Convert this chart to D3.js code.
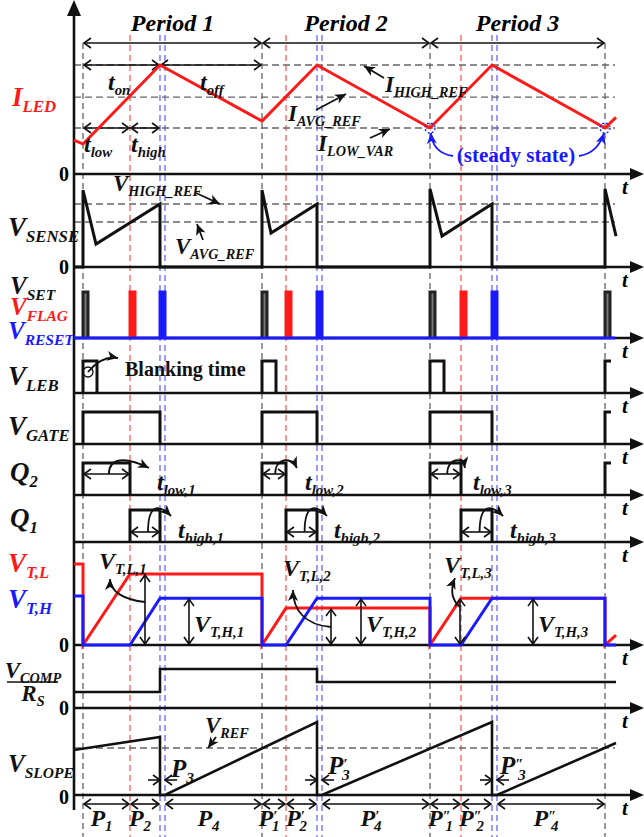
<!DOCTYPE html>
<html>
<head>
<meta charset="utf-8">
<script src="https://cdn.jsdelivr.net/npm/d3@7"></script>
<style>
  body { margin: 0; background: #fff; }
  text { font-family: "Liberation Serif", "Times New Roman", serif; font-weight: bold; }
</style>
</head>
<body>
<svg id="chart"></svg>
<script>
// ---- time markers (arbitrary time units, 0 = vertical axis) ----
const periodStart = [9, 188, 356, 531];
const flagTime = [56, 212, 387];
const resetTime = [86, 243, 418];
const resetEnd = [91, 248, 423];
const periodLabels = ['Period 1', 'Period 2', 'Period 3'];
const blankingWidth = 14;
const pulseWidth = 5;

// ---- waveforms: [time, value] ----
const iLedRefs = [1, 0.706, 0.422];          // I_HIGH_REF, I_AVG_REF, I_LOW_VAR
const iLedWave = [[0, 0.31], [9, 0.275], [86, 1], [188, 0.486], [243, 1], [356, 0.422], [418, 1], [531, 0.422], [542, 0.52]];
const vSenseRefs = [1, 0.714];               // V_HIGH_REF, V_AVG_REF
const vSenseWave = [[0, 0], [9, 0], [9, 1.22], [22, 0.365], [86, 1], [86, 0], [188, 0], [188, 1.22], [197, 0.54],
  [243, 1], [243, 0], [356, 0], [356, 1.24], [368, 0.49], [418, 1], [418, 0], [531, 0], [531, 1.24], [542, 0.49]];
const vtlWave = [[0, 1.14], [9, 1.14], [9, 0], [56, 1], [188, 1], [188, 0], [212, 0.52], [356, 0.52], [356, 0],
  [387, 0.66], [531, 0.66], [531, 0], [542, 0.14]];
const vthWave = [[0, 0.69], [9, 0.69], [9, 0], [56, 0], [86, 0.66], [188, 0.66], [188, 0], [212, 0], [243, 0.66],
  [356, 0.66], [356, 0], [387, 0], [418, 0.66], [531, 0.66], [531, 0], [542, 0]];
const vCompWave = [[0, 0.41], [86, 0.41], [86, 1], [243, 1], [243, 0.667], [542, 0.667]];
const vRef = 1;
const vSlopeWave = [[0, 0.957], [86, 1.234], [86, 0], [91, 0], [243, 1.553], [243, 0], [248, 0], [418, 1.553],
  [418, 0], [423, 0], [542, 1.106]];
const vtlArrowT = [71, 257, 386];   // where the V_T,L,n arrows stand
const vthArrowT = [115, 287, 459];
const vtlLevels = [1, 0.52, 0.66];
const vthLevels = [0.66, 0.66, 0.66];

const W = 644, H = 837;
const svg = d3.select('#chart').attr('width', W).attr('height', H);

const x = d3.scaleLinear().domain([0, 566]).range([74, 640]);
const xEnd = 615;

// panel y scales (value 0 -> baseline)
const yLed = d3.scaleLinear().domain([0, 1]).range([174, 65]);
const ySense = d3.scaleLinear().domain([0, 1]).range([267, 204]);
const ySet = d3.scaleLinear().domain([0, 1]).range([338, 292]);
const yLeb = d3.scaleLinear().domain([0, 1]).range([393, 361]);
const yGate = d3.scaleLinear().domain([0, 1]).range([444, 412]);
const yQ2 = d3.scaleLinear().domain([0, 1]).range([495, 463]);
const yQ1 = d3.scaleLinear().domain([0, 1]).range([542, 510]);
const yVt = d3.scaleLinear().domain([0, 1]).range([645, 574]);
const yComp = d3.scaleLinear().domain([0, 1]).range([708, 669]);
const ySlope = d3.scaleLinear().domain([0, 1]).range([795, 748]);

const RED = '#ff1a1a', BLUE = '#1a1aff', BLACK = '#111';

// markers
const defs = svg.append('defs');
defs.append('marker').attr('id', 'chev').attr('viewBox', '-10 -6 12 12')
  .attr('refX', 0).attr('refY', 0).attr('markerWidth', 12).attr('markerHeight', 12)
  .attr('markerUnits', 'userSpaceOnUse').attr('orient', 'auto-start-reverse')
  .append('path').attr('d', 'M-7,-5 L0,0 L-7,5').attr('fill', 'none')
  .attr('stroke', BLACK).attr('stroke-width', 1.6);
[['head', BLACK], ['headB', BLUE]].forEach(([id, c]) => {
  defs.append('marker').attr('id', id).attr('viewBox', '-12 -6 13 12')
    .attr('refX', 0).attr('refY', 0).attr('markerWidth', 13).attr('markerHeight', 12)
    .attr('markerUnits', 'userSpaceOnUse').attr('orient', 'auto')
    .append('path').attr('d', 'M-11,-5 L0,0 L-11,5 L-8,0 Z').attr('fill', c);
});

// ---- vertical dashed time markers ----
const vg = svg.append('g').attr('stroke-width', 1.2).attr('stroke-dasharray', '6,4');
periodStart.forEach(t => vg.append('line').attr('x1', x(t)).attr('x2', x(t)).attr('y1', 43).attr('y2', H).attr('stroke', '#555'));
flagTime.forEach(t => vg.append('line').attr('x1', x(t)).attr('x2', x(t)).attr('y1', 35).attr('y2', H).attr('stroke', '#ff4d4d'));
resetTime.concat(resetEnd).forEach(t => vg.append('line').attr('x1', x(t)).attr('x2', x(t)).attr('y1', 35).attr('y2', H).attr('stroke', '#5a5aff'));

// ---- horizontal dashed reference lines ----
const hg = svg.append('g').attr('stroke', '#666').attr('stroke-width', 1.3).attr('stroke-dasharray', '7,4');
iLedRefs.forEach(v => hg.append('line').attr('x1', x(0)).attr('x2', xEnd).attr('y1', yLed(v)).attr('y2', yLed(v)));
vSenseRefs.forEach(v => hg.append('line').attr('x1', x(0)).attr('x2', xEnd).attr('y1', ySense(v)).attr('y2', ySense(v)));
hg.append('line').attr('x1', x(0)).attr('x2', xEnd).attr('y1', ySlope(vRef)).attr('y2', ySlope(vRef));

// ---- axes ----
const axisBases = [174, 267, 338, 393, 444, 495, 542, 645, 708, 795];
const ag = svg.append('g');
axisBases.forEach(b => {
  ag.append('line').attr('x1', x(0)).attr('x2', 632).attr('y1', b).attr('y2', b).attr('stroke', BLACK).attr('stroke-width', 2.4);
  ag.append('path').attr('d', `M630,${b - 6} L644,${b} L630,${b + 6} Z`).attr('fill', BLACK);
  ag.append('text').attr('x', 622).attr('y', b + 20).attr('font-size', 21).attr('font-style', 'italic').text('t');
});
ag.append('line').attr('x1', x(0)).attr('x2', x(0)).attr('y1', 12).attr('y2', 810).attr('stroke', BLACK).attr('stroke-width', 2.6);
ag.append('path').attr('d', `M${x(0) - 7},16 L${x(0)},0 L${x(0) + 7},16 Z`).attr('fill', BLACK);
[174, 267, 645, 708, 797].forEach(b => ag.append('text').attr('x', 69).attr('y', b + 7).attr('text-anchor', 'end').attr('font-size', 20).text('0'));

// ---- label helper: main text with subscript / optional prime ----
function label(xp, yp, main, sub, opt = {}) {
  const size = opt.size || 24;
  const t = svg.append('text').attr('x', xp).attr('y', yp).attr('font-size', size)
    .attr('font-style', opt.upright ? 'normal' : 'italic').attr('fill', opt.color || BLACK)
    .attr('text-anchor', opt.anchor || 'start');
  t.append('tspan').text(main);
  if (opt.prime) {
    t.append('tspan').attr('font-size', size * 0.6).attr('dy', -size * 0.2).text(opt.prime);
    t.append('tspan').attr('font-size', size * 0.62).attr('dx', -size * 0.22 * opt.prime.length).attr('dy', size * 0.42).text(sub);
  } else if (sub) {
    t.append('tspan').attr('font-size', size * 0.62).attr('dy', size * 0.22).text(sub);
  }
  return t;
}

// ---- line helpers ----
const line = d3.line();
function wave(data, ys, color, width) {
  svg.append('path').attr('d', line(data.map(d => [x(d[0]), ys(d[1])])))
    .attr('fill', 'none').attr('stroke', color).attr('stroke-width', width || 3).attr('stroke-linejoin', 'miter');
}
function pulses(intervals, ys, color, fillColor) {
  intervals.forEach(([a, b]) => {
    const pts = [[x(a), ys(0)], [x(a), ys(1)], [x(b), ys(1)], [x(b), ys(0)]];
    svg.append('path').attr('d', line(pts)).attr('fill', fillColor || 'none')
      .attr('stroke', color).attr('stroke-width', 3);
  });
}
function span(a, b, yp) {  // double-headed interval arrow
  svg.append('line').attr('x1', a).attr('x2', b).attr('y1', yp).attr('y2', yp)
    .attr('stroke', BLACK).attr('stroke-width', 1.6)
    .attr('marker-start', 'url(#chev)').attr('marker-end', 'url(#chev)');
}
function arrow(d, marker) {
  svg.append('path').attr('d', d).attr('fill', 'none').attr('stroke', marker === 'headB' ? BLUE : BLACK)
    .attr('stroke-width', 1.8).attr('marker-end', `url(#${marker || 'head'})`);
}

// ---- I_LED panel ----
periodLabels.forEach((p, i) => {
  svg.append('text').attr('x', (x(periodStart[i]) + x(periodStart[i + 1])) / 2).attr('y', 31)
    .attr('text-anchor', 'middle').attr('font-size', 24).attr('font-style', 'italic').text(p);
  span(x(periodStart[i]) + 1, x(periodStart[i + 1]) - 1, 43);
});
span(x(periodStart[0]) + 1, x(resetTime[0]) - 1, yLed(1));
span(x(resetTime[0]) + 1, x(periodStart[1]) - 1, yLed(1));
span(x(periodStart[0]) + 1, x(flagTime[0]) - 1, yLed(iLedRefs[2]));
span(x(flagTime[0]) + 1, x(resetTime[0]) - 1, yLed(iLedRefs[2]));
wave(iLedWave, yLed, RED, 3);
label(12, 106, 'I', 'LED', { color: RED, size: 27 });
label(108, 90, 't', 'on', { size: 24 });
label(200, 90, 't', 'off', { size: 24 });
label(84, 152, 't', 'low', { size: 24 });
label(131, 152, 't', 'high', { size: 24 });
label(385, 92, 'I', 'HIGH_REF', { size: 23 });
arrow('M384,78 L364,66');
label(288, 121, 'I', 'AVG_REF', { size: 23 });
arrow('M316,110 L346,94');
label(318, 151, 'I', 'LOW_VAR', { size: 23 });
arrow('M370,138 L390,129');
svg.append('text').attr('x', 516).attr('y', 162).attr('text-anchor', 'middle').attr('font-size', 21)
  .attr('fill', BLUE).text('(steady state)');
[periodStart[2], periodStart[3]].forEach(t => svg.append('circle').attr('cx', x(t)).attr('cy', yLed(iLedRefs[2]))
  .attr('r', 5).attr('fill', 'none').attr('stroke', BLUE).attr('stroke-width', 1.3).attr('stroke-dasharray', '2,2'));
arrow(`M453,156 C440,154 432,146 ${x(periodStart[2]) + 1},${yLed(iLedRefs[2]) + 5}`, 'headB');
arrow(`M579,156 C592,154 600,146 ${x(periodStart[3]) - 1},${yLed(iLedRefs[2]) + 5}`, 'headB');

// ---- V_SENSE panel ----
wave(vSenseWave, ySense, BLACK, 3);
label(8, 236, 'V', 'SENSE', { size: 27 });
label(113, 191, 'V', 'HIGH_REF', { size: 23 });
arrow('M196,193 L220,204');
label(175, 254, 'V', 'AVG_REF', { size: 23 });
arrow('M203,240 L197,224');

// ---- V_SET / V_FLAG / V_RESET ----
pulses(periodStart.map(t => [t, t + pulseWidth]), ySet, '#222', '#777');
pulses(flagTime.map(t => [t, t + pulseWidth]), ySet, RED, RED);
pulses(resetTime.map((t, i) => [t, resetEnd[i]]), ySet, BLUE, BLUE);
svg.append('line').attr('x1', x(0)).attr('x2', xEnd).attr('y1', ySet(0)).attr('y2', ySet(0)).attr('stroke', BLUE).attr('stroke-width', 3);
label(10, 294, 'V', 'SET', { size: 25 });
label(10, 315, 'V', 'FLAG', { size: 25, color: RED });
label(8, 339, 'V', 'RESET', { size: 25, color: BLUE });

// ---- V_LEB ----
pulses(periodStart.slice(0, 3).map(t => [t, t + blankingWidth]), yLeb, BLACK);
wave([[periodStart[3], 0], [periodStart[3], 1], [periodStart[3] + 6, 1]], yLeb, BLACK, 3);
label(8, 385, 'V', 'LEB', { size: 27 });
svg.append('circle').attr('cx', 88).attr('cy', 372).attr('r', 5).attr('fill', 'none').attr('stroke', BLACK).attr('stroke-width', 1.3);
arrow('M88,372 C98,360 108,356 118,358');
label(125, 376, 'Blanking time', null, { size: 20, upright: true });

// ---- V_GATE ----
pulses(periodStart.slice(0, 3).map((t, i) => [t, resetTime[i]]), yGate, BLACK);
wave([[periodStart[3], 0], [periodStart[3], 1], [periodStart[3] + 6, 1]], yGate, BLACK, 3);
label(8, 435, 'V', 'GATE', { size: 27 });

// ---- Q2 ----
pulses(periodStart.slice(0, 3).map((t, i) => [t, flagTime[i]]), yQ2, BLACK);
wave([[periodStart[3], 0], [periodStart[3], 1], [periodStart[3] + 6, 1]], yQ2, BLACK, 3);
label(10, 481, 'Q', '2', { size: 27 });
const lowLabelX = [157, 305, 473];
periodStart.slice(0, 3).forEach((t, i) => {
  const a = x(t), b = x(flagTime[i]), m = a + (b - a) * 0.55;
  span(a + 1, b - 1, 474);
  arrow(`M${m},474 C${m},458 ${m + 16},456 ${lowLabelX[i] - 8},468`);
  label(lowLabelX[i], 490, 't', `low,${i + 1}`, { size: 24 });
});

// ---- Q1 ----
pulses(flagTime.map((t, i) => [t, resetTime[i]]), yQ1, BLACK);
label(10, 527, 'Q', '1', { size: 27 });
const highLabelX = [178, 334, 510];
flagTime.forEach((t, i) => {
  const a = x(t), b = x(resetTime[i]), m = a + (b - a) * 0.6;
  span(a + 1, b - 1, 532);
  arrow(`M${m},532 C${m},505 ${m + 10},503 ${highLabelX[i] - 7},516`);
  label(highLabelX[i], 538, 't', `high,${i + 1}`, { size: 24 });
});

// ---- V_T,L / V_T,H ----
wave(vtlWave, yVt, RED, 3);
wave(vthWave, yVt, BLUE, 3);
const vArrow = (t, v) => svg.append('line').attr('x1', x(t)).attr('x2', x(t)).attr('y1', yVt(v) + 1).attr('y2', yVt(0) - 1)
  .attr('stroke', BLACK).attr('stroke-width', 1.6).attr('marker-start', 'url(#chev)').attr('marker-end', 'url(#chev)');
vtlArrowT.forEach((t, i) => vArrow(t, vtlLevels[i]));
vthArrowT.forEach((t, i) => vArrow(t, vthLevels[i]));
label(99, 569, 'V', 'T,L,1', { size: 24 });
label(283, 576, 'V', 'T,L,2', { size: 24 });
label(444, 573, 'V', 'T,L,3', { size: 24 });
label(194, 632, 'V', 'T,H,1', { size: 24 });
label(366, 632, 'V', 'T,H,2', { size: 24 });
label(538, 632, 'V', 'T,H,3', { size: 24 });
arrow(`M${x(vtlArrowT[0])},602 C125,600 110,592 110,579`);
arrow(`M${x(vtlArrowT[1])},627 C305,625 293,610 293,590`);
arrow(`M${x(vtlArrowT[2])},607 C452,600 450,590 455,578`);
label(8, 572, 'V', 'T,L', { size: 27, color: RED });
label(8, 608, 'V', 'T,H', { size: 27, color: BLUE });

// ---- V_COMP / R_S ----
wave(vCompWave, yComp, BLACK, 2.6);
label(33, 678, 'V', 'COMP', { size: 23, anchor: 'middle' });
svg.append('line').attr('x1', 7).attr('x2', 58).attr('y1', 682).attr('y2', 682).attr('stroke', BLACK).attr('stroke-width', 1.5);
label(33, 701, 'R', 'S', { size: 23, anchor: 'middle' });

// ---- V_SLOPE ----
wave(vSlopeWave, ySlope, BLACK, 2.6);
label(8, 772, 'V', 'SLOPE', { size: 25 });
label(205, 733, 'V', 'REF', { size: 23 });
arrow('M216,737 L208,748');
resetTime.forEach((t, i) => {
  const a = x(t), b = x(resetEnd[i]);
  svg.append('line').attr('x1', a - 12).attr('x2', a).attr('y1', 780).attr('y2', 780)
    .attr('stroke', BLACK).attr('stroke-width', 1.6).attr('marker-end', 'url(#chev)');
  svg.append('line').attr('x1', b + 12).attr('x2', b).attr('y1', 780).attr('y2', 780)
    .attr('stroke', BLACK).attr('stroke-width', 1.6).attr('marker-end', 'url(#chev)');
});
label(171, 777, 'P', '3', { size: 25 });
label(328, 774, 'P', '3', { size: 25, prime: '′' });
label(500, 774, 'P', '3', { size: 25, prime: '″' });

// ---- bottom interval row ----
const primes = ['', '′', '″'];
periodStart.slice(0, 3).forEach((t, i) => {
  const segs = [[t, flagTime[i], '1'], [flagTime[i], resetTime[i], '2'], [resetEnd[i], periodStart[i + 1], '4']];
  segs.forEach(([a, b, s]) => {
    span(x(a) + 1, x(b) - 1, 804);
    label((x(a) + x(b)) / 2 - 5, 826, 'P', s, { size: 24, anchor: 'middle', prime: primes[i] || null });
  });
});
</script>
</body>
</html>
